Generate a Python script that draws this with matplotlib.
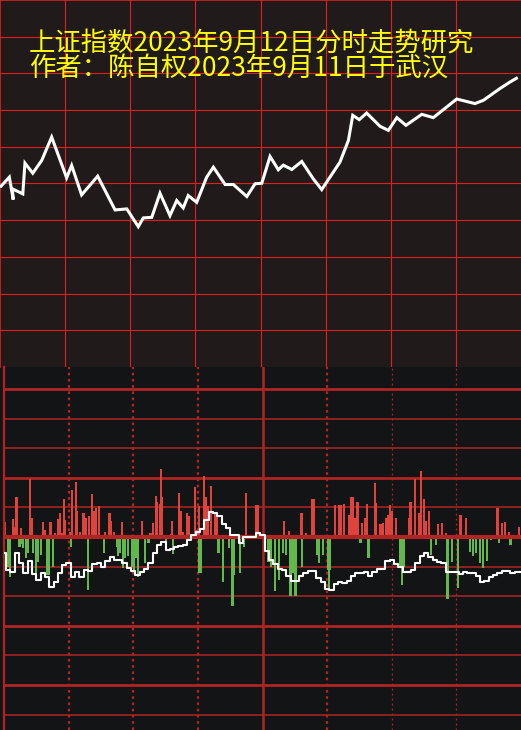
import matplotlib

matplotlib.use("Agg")
import matplotlib.pyplot as plt

plt.rcParams["font.family"] = ["Noto Sans CJK SC", "DejaVu Sans"]

TITLE_LINES = ["上证指数2023年9月12日分时走势研究", "作者：陈自权2023年9月11日于武汉"]

# top panel: sketched intraday path (minutes after 9:30, index points)
path_minutes = [0, 4.3, 6.1, 5.7, 10.5, 11.5, 15.1, 19.2, 23.8, 30.7, 33.0, 37.6, 45.0, 53.0,
                58.4, 63.7, 66.0, 69.9, 73.7, 78.3, 81.4, 84.4, 86.7, 90.6, 95.2, 98.3, 103.7,
                107.5, 113.7, 117.5, 120.6, 124.4, 128.2, 130.5, 134.4, 139.0, 144.3, 148.2,
                156.6, 160.5, 162.5, 165.5, 168.9, 175.1, 178.9, 182.8, 187.0, 194.3, 199.6,
                205.8, 210.4, 218.8, 222.7, 230.3, 235.0, 238.5]
path_prices = [3139.59, 3140.69, 3138.25, 3139.42, 3138.87, 3142.22, 3141.12, 3142.51, 3145.06,
               3140.62, 3141.97, 3138.76, 3140.80, 3137.12, 3137.23, 3135.30, 3136.25, 3136.31,
               3138.94, 3136.50, 3138.14, 3137.34, 3138.69, 3137.95, 3140.69, 3141.78, 3139.89,
               3139.89, 3138.58, 3139.97, 3140.03, 3142.95, 3141.50, 3142.00, 3141.53, 3142.40,
               3140.51, 3139.34, 3142.33, 3144.70, 3147.43, 3146.96, 3147.68, 3146.23, 3145.79,
               3147.18, 3146.34, 3147.54, 3147.18, 3148.34, 3149.21, 3148.71, 3149.07, 3150.35,
               3151.07, 3151.55]
price_top = 3160
price_step = 4

# bottom panel: red / green bars and the white flow line
red_minutes = [0.6, 4.3, 5.0, 5.8, 7.9, 12.2, 12.8, 18.1, 19.2, 21.6, 23.8, 25.2, 26.0, 26.9,
               27.9, 28.5, 30.7, 31.7, 33.3, 34.0, 35.4, 36.9, 38.2, 39.5, 41.0, 41.7, 42.6,
               44.0, 46.7, 49.0, 49.8, 51.1, 54.8, 64.2, 68.0, 69.3, 70.4, 71.2, 72.3, 73.0,
               73.5, 77.5, 78.0, 81.2, 81.9, 83.1, 85.1, 85.9, 88.5, 89.5, 90.5, 93.0, 93.8,
               94.6, 96.1, 98.1, 98.7, 112.4, 117.1, 117.7, 118.1, 129.9, 132.2, 138.1, 140.3,
               142.9, 143.7, 153.7, 155.6, 156.6, 157.9, 160.1, 161.3, 162.0, 162.7, 164.1,
               166.2, 167.8, 168.5, 172.1, 172.8, 174.8, 176.0, 177.4, 178.2, 179.1, 180.3,
               182.0, 188.1, 188.7, 190.7, 192.6, 193.6, 195.1, 196.0, 197.2, 201.4, 203.4,
               205.2, 211.9, 214.5, 229.1, 231.3, 232.7, 234.3, 239.2]
red_values = [0.50, 0.60, 0.35, 1.35, 0.29, 1.96, 0.64, 0.52, 0.24, 0.50, 0.15, 0.61, 0.80,
              0.12, 1.27, 0.58, 0.18, 1.58, 1.85, 0.89, 0.18, 0.80, 0.63, 0.72, 1.45, 0.89,
              0.99, 1.06, 0.18, 0.80, 0.53, 0.18, 0.50, 0.53, 0.12, 0.47, 1.38, 1.19, 1.11,
              2.28, 1.36, 0.11, 0.55, 1.47, 0.87, 0.18, 0.80, 0.72, 1.68, 0.23, 1.06, 2.06,
              1.34, 1.06, 1.73, 0.80, 0.80, 1.47, 1.09, 1.09, 0.38, 0.53, 0.21, 0.80, 0.15,
              1.27, 1.27, 1.08, 1.07, 1.07, 1.10, 0.73, 1.36, 1.36, 0.64, 1.18, 0.46, 0.64,
              1.10, 1.82, 1.14, 0.44, 0.48, 0.63, 0.75, 1.09, 0.86, 0.64, 0.63, 1.17, 1.95,
              0.82, 2.23, 1.28, 0.53, 0.89, 0.44, 0.48, 0.15, 0.73, 0.64, 0.99, 0.46, 0.52,
              0.18, 0.33]
green_minutes = [2.0, 2.7, 7.2, 8.0, 8.7, 10.1, 10.9, 13.5, 14.9, 15.8, 17.2, 19.9, 20.7, 22.8,
                 31.1, 38.9, 46.3, 52.4, 53.0, 53.9, 55.4, 56.3, 57.6, 59.3, 60.3, 61.1, 62.4,
                 65.5, 67.1, 75.2, 78.6, 90.6, 91.5, 99.6, 101.6, 104.6, 106.1, 106.9, 109.4,
                 111.4, 122.8, 124.1, 125.7, 127.6, 129.4, 131.0, 132.6, 133.4, 134.0, 135.3,
                 138.5, 145.4, 146.2, 148.2, 150.5, 150.9, 151.4, 165.5, 169.2, 184.0, 184.6,
                 185.5, 198.1, 200.4, 205.5, 206.1, 208.0, 210.9, 216.2, 217.9, 219.0, 221.1,
                 222.2, 224.1, 226.2, 229.8, 235.1]
green_values = [-1.00, -1.36, -0.33, -0.25, -0.38, -0.70, -0.55, -0.55, -1.45, -0.83, -0.61,
                -1.29, -1.29, -1.01, -0.33, -1.78, -0.55, -0.33, -0.63, -0.55, -1.06, -0.72,
                -0.66, -1.01, -1.18, -0.72, -1.34, -0.89, -0.19, -0.41, -0.57, -1.23, -1.23,
                -0.55, -1.51, -0.38, -2.32, -1.28, -1.21, -0.33, -0.86, -1.00, -1.82, -1.46,
                -0.55, -0.61, -1.98, -1.98, -1.23, -1.98, -1.01, -0.61, -0.89, -0.61, -1.12,
                -1.78, -1.12, -0.19, -0.72, -1.00, -1.62, -1.00, -0.61, -0.27, -2.10, -2.10,
                -0.83, -1.73, -0.50, -0.66, -0.55, -0.89, -1.06, -0.82, -0.10, -0.19, -0.28]
flow_minutes = list(range(0, 241, 2))
flow_values = [-0.53, -1.11, -1.17, -0.53, -0.87, -1.23, -0.80, -1.24, -1.45, -1.23, -1.34,
               -1.68, -1.51, -1.23, -0.95, -0.89, -1.34, -1.20, -1.34, -1.11, -1.14, -0.91,
               -0.87, -1.02, -0.80, -0.69, -0.78, -0.78, -0.87, -1.04, -1.16, -1.27, -1.19,
               -1.09, -0.89, -0.55, -0.27, -0.16, -0.45, -0.39, -0.34, -0.32, -0.26, -0.10,
               0.07, 0.18, 0.28, 0.57, 0.84, 0.82, 0.71, 0.45, 0.29, 0.06, 0.05, -0.21, -0.01,
               -0.01, 0.01, 0.14, 0.07, -0.46, -0.78, -0.91, -1.09, -1.13, -1.31, -1.48, -1.50,
               -1.32, -1.23, -1.16, -1.15, -1.37, -1.52, -1.75, -1.78, -1.58, -1.53, -1.54,
               -1.48, -1.31, -1.22, -1.23, -1.19, -1.32, -1.18, -1.07, -1.07, -0.82, -0.77,
               -0.91, -1.00, -1.19, -1.17, -1.11, -0.89, -0.66, -0.55, -0.69, -0.78, -0.83,
               -0.87, -1.17, -1.17, -1.17, -1.26, -1.19, -1.22, -1.23, -1.32, -1.52, -1.50,
               -1.36, -1.28, -1.22, -1.15, -1.14, -1.23, -1.20, -1.20]

TOP_BG = "#201a1a"
BOTTOM_BG = "#131416"
GRID_TOP = "#e02020"
GRID_BOTTOM = "#b02424"
RED_BAR = "#e0423c"
GREEN_BAR = "#62b84a"
TEXT_YELLOW = "#ffff00"

W, H = 521, 730
fig = plt.figure(figsize=(W / 100, H / 100), dpi=100)
fig.patch.set_facecolor(BOTTOM_BG)

# ---- top panel ----
top_h = 367
ax = fig.add_axes([0, 1 - top_h / H, 1, top_h / H])
ax.set_facecolor(TOP_BG)
ax.set_xlim(0, 240)
ax.set_ylim(price_top - 10 * price_step, price_top)
for m in range(30, 240, 30):
    ax.axvline(m, color=GRID_TOP, lw=0.8, zorder=1)
for k in range(1, 10):
    ax.axhline(price_top - k * price_step, color=GRID_TOP, lw=0.8, zorder=1)
ax.plot(path_minutes, path_prices, color="white", lw=2.2, zorder=3,
        solid_joinstyle="miter", solid_capstyle="butt")
ax.set_xticks([])
ax.set_yticks([])
for side, spine in ax.spines.items():
    spine.set_color(GRID_TOP)
    spine.set_linewidth(1.2)
ax.spines["right"].set_visible(False)
ax.spines["bottom"].set_visible(False)

for i, line in enumerate(TITLE_LINES):
    fig.text(29 / W, 1 - (43 + 25 * i) / H, line, color=TEXT_YELLOW, fontsize=19,
             ha="left", va="center")

# ---- bottom panel ----
left = 4
bx = fig.add_axes([left / W, 0, (W - left) / W, (H - top_h) / H])
bx.set_facecolor(BOTTOM_BG)
bx.set_xlim(0, 240)
bx.set_ylim(-6.52, 5.74)

thick_levels = [5, 2, 0, -3, -5]
for level in range(-6, 6):
    bx.axhline(level, color=GRID_BOTTOM, lw=2.0 if level in thick_levels else 1.1, zorder=1)
bx.axhline(0, color=GRID_BOTTOM, lw=3.0, zorder=4)

for m in (30, 60, 90, 150):
    bx.axvline(m, color=GRID_BOTTOM, lw=1.6, ls=(0, (1.2, 1.6)), zorder=1)
for m in (180, 210):
    bx.axvline(m, color=GRID_BOTTOM, lw=0.9, ls=(0, (1.5, 2.5)), zorder=1)
bx.axvline(120, color=GRID_BOTTOM, lw=1.8, zorder=1)

bx.bar(red_minutes, red_values, width=1.0, color=RED_BAR, zorder=2, linewidth=0)
bx.bar(green_minutes, green_values, width=1.0, color=GREEN_BAR, zorder=2, linewidth=0)
bx.plot(flow_minutes, flow_values, color="white", lw=1.5, zorder=5, drawstyle="steps-mid")

bx.set_xticks([])
bx.set_yticks([])
for spine in bx.spines.values():
    spine.set_visible(False)
bx.spines["left"].set_visible(True)
bx.spines["left"].set_color(GRID_BOTTOM)
bx.spines["left"].set_linewidth(1.6)

fig.savefig("out.png", dpi=100, facecolor=fig.get_facecolor())
